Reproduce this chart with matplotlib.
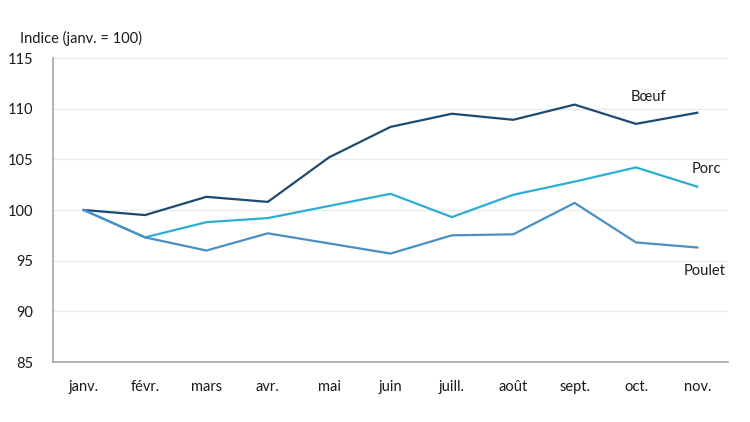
import matplotlib.pyplot as plt

months = ["janv.", "févr.", "mars", "avr.", "mai", "juin", "juill.", "août", "sept.", "oct.", "nov."]
boeuf = [100.0, 99.5, 101.3, 100.8, 105.2, 108.2, 109.5, 108.9, 110.4, 108.5, 109.6]
porc = [100.0, 97.3, 98.8, 99.2, 100.4, 101.6, 99.3, 101.5, 102.8, 104.2, 102.3]
poulet = [100.0, 97.3, 96.0, 97.7, 96.7, 95.7, 97.5, 97.6, 100.7, 96.8, 96.3]
yticks = [85, 90, 95, 100, 105, 110, 115]

plt.rcParams["font.family"] = ["Lato", "DejaVu Sans"]

fig = plt.figure(figsize=(7.5, 4.22), dpi=100)
ax = fig.add_axes([53 / 750, 1 - 362 / 422, 675 / 750, 304 / 422])

x = list(range(len(months)))
ax.plot(x, boeuf, color="#1b4a72", lw=1.6, solid_joinstyle="miter")
ax.plot(x, porc, color="#2aaed3", lw=1.6, solid_joinstyle="miter")
ax.plot(x, poulet, color="#4a8fc4", lw=1.6, solid_joinstyle="miter")

ax.text(9.21, 111.2, "Bœuf", fontsize=10.5, ha="center", va="center", color="#1a1a1a")
ax.text(10.15, 104.0, "Porc", fontsize=10.5, ha="center", va="center", color="#1a1a1a")
ax.text(10.12, 94.0, "Poulet", fontsize=10.5, ha="center", va="center", color="#1a1a1a")

ax.set_xlim(-0.5, 10.5)
ax.set_ylim(85, 115)
ax.set_yticks(yticks)
ax.set_xticks(x)
ax.set_xticklabels(months)
ax.tick_params(axis="both", length=0, labelsize=10.5, colors="#1a1a1a")
ax.tick_params(axis="x", pad=13)
ax.tick_params(axis="y", pad=14)
ax.grid(axis="y", color="#ebebeb", lw=1)
ax.set_axisbelow(True)
for s in ["top", "right"]:
    ax.spines[s].set_visible(False)
for s in ["left", "bottom"]:
    ax.spines[s].set_color("#a6a6a6")
    ax.spines[s].set_linewidth(1.2)

fig.text(20 / 750, 1 - 38 / 422, "Indice (janv. = 100)", fontsize=10.5, ha="left", va="center", color="#1a1a1a")

fig.savefig("out.png", dpi=100)
